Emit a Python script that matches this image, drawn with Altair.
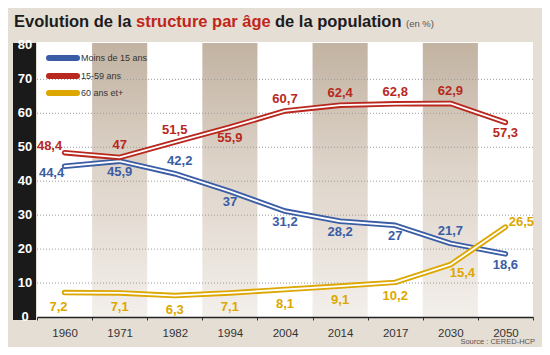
import altair as alt
import pandas as pd

# ---------------- data ----------------
years = ["1960", "1971", "1982", "1994", "2004", "2014", "2017", "2030", "2050"]
series_names = ["Moins de 15 ans", "15-59 ans", "60 ans et+"]
moins15 = [44.4, 45.9, 42.2, 37, 31.2, 28.2, 27, 21.7, 18.6]
age15_59 = [48.4, 47, 51.5, 55.9, 60.7, 62.4, 62.8, 62.9, 57.3]
age60 = [7.2, 7.1, 6.3, 7.1, 8.1, 9.1, 10.2, 15.4, 26.5]
shaded_years = ["1971", "1994", "2014", "2030"]
y_ticks = [0, 10, 20, 30, 40, 50, 60, 70, 80]
grid_values = [10, 20, 30, 40, 50, 60, 70]

# label placement codes (style)
pos_moins15 = ["bl", "b", "ar", "b", "b", "b", "b", "a", "b"]
pos_15_59 = ["al", "a", "a", "b", "a", "a", "a", "a", "b"]
pos_60 = ["gbl", "gb", "gb", "gb", "gb", "gb", "gb", "br", "r"]
OFFSETS = {
    "a": (0, -12), "b": (0, 11), "al": (-15, -7), "bl": (-13, 7),
    "ar": (5, -13), "gb": (0, 14), "gbl": (-6, 14), "br": (12, 8), "r": (16, -5),
}

colors = ["#3a5da5", "#b8281e", "#dca700"]
FONT = "Liberation Sans, Arial, sans-serif"

W, H = 496, 275


def fmt(v):
    return f"{v:g}".replace(".", ",")


rows = []
for name, vals, pos in zip(series_names, [moins15, age15_59, age60], [pos_moins15, pos_15_59, pos_60]):
    for y, v, p in zip(years, vals, pos):
        rows.append({"year": y, "series": name, "value": v, "label": fmt(v), "pos": p})
df = pd.DataFrame(rows)

X = alt.X("year:N", sort=years,
          scale=alt.Scale(type="band", domain=years, paddingInner=0, paddingOuter=0),
          axis=alt.Axis(title=None, labelFont=FONT, labelFontSize=11.5, labelColor="#333",
                        labelAngle=0, labelPadding=7, tickSize=3, tickColor="#333",
                        tickBand="extent", domainColor="#222", domainWidth=1.5,
                        zindex=1, grid=False))
YSCALE = alt.Scale(domain=[0, 81], nice=False)
COLOR = alt.Color("series:N", scale=alt.Scale(domain=series_names, range=colors), legend=None)

dummy = pd.DataFrame({"d": [0]})

# shaded columns with vertical gradient
shade = alt.Chart(pd.DataFrame({"year": shaded_years})).mark_rect(
    fill=alt.Gradient(gradient="linear",
                      stops=[alt.GradientStop(color="#c2b3a2", offset=0),
                             alt.GradientStop(color="#ddd3c8", offset=0.45),
                             alt.GradientStop(color="#f3efeb", offset=1)],
                      x1=0, y1=0, x2=0, y2=1)
).encode(x=X, y=alt.value(1), y2=alt.value(H))

# dotted gridlines
grid = alt.Chart(pd.DataFrame({"g": grid_values})).mark_rule(
    color="#9a9a9a", strokeDash=[1, 2], strokeWidth=1
).encode(y=alt.Y("g:Q", scale=YSCALE, axis=None), x=alt.value(0), x2=alt.value(W))

# black band for y axis
band = alt.Chart(dummy).mark_rect(color="#1b1a1a").encode(
    x=alt.value(-24), x2=alt.value(-1), y=alt.value(1), y2=alt.value(H + 3))

# y axis labels (white, in the black band)
ylabels = alt.Chart(pd.DataFrame({"t": y_ticks})).mark_text(
    font=FONT, fontSize=13, fontWeight="bold", color="white", align="center", baseline="middle"
).encode(y=alt.Y("t:Q", scale=YSCALE, axis=None), x=alt.value(-12), text="t:Q")

# lines (outline + white core), per series
line_layers = []
for name in ["Moins de 15 ans", "15-59 ans", "60 ans et+"]:
    sub = alt.Chart(df).transform_filter(alt.datum.series == name)
    base_enc = dict(x=X, y=alt.Y("value:Q", scale=YSCALE, axis=None))
    line_layers.append(sub.mark_line(strokeWidth=5.5, strokeJoin="round", strokeCap="round").encode(
        color=COLOR, **base_enc))
    line_layers.append(sub.mark_line(strokeWidth=1.8, color="white", strokeJoin="round",
                                     strokeCap="round").encode(**base_enc))

# value labels
label_layers = []
for code, (dx, dy) in OFFSETS.items():
    label_layers.append(
        alt.Chart(df).transform_filter(alt.datum.pos == code).mark_text(
            dx=dx, dy=dy, font=FONT, fontSize=13, fontWeight="bold", baseline="middle", align="center"
        ).encode(x=X, y=alt.Y("value:Q", scale=YSCALE, axis=None), text="label:N", color=COLOR))

# legend
leg_df = pd.DataFrame({"series": series_names, "ypix": [16, 34, 51]})
leg_sw = alt.Chart(leg_df).mark_rule(strokeWidth=6, strokeCap="round").encode(
    x=alt.value(12), x2=alt.value(40), y=alt.Y("ypix:Q", scale=None), color=COLOR)
leg_tx = alt.Chart(leg_df).mark_text(align="left", baseline="middle", font=FONT, fontSize=9,
                                     color="#333").encode(
    x=alt.value(44), y=alt.Y("ypix:Q", scale=None), text="series:N")

# title pieces
TS = 16.5
t1 = alt.Chart(dummy).mark_text(text="Evolution de la", align="left", baseline="alphabetic",
                                font=FONT, fontSize=TS, fontWeight="bold", color="#1c1c1c").encode(
    x=alt.value(-23), y=alt.value(-15))
t2 = alt.Chart(dummy).mark_text(text="structure par âge", align="left", baseline="alphabetic",
                                font=FONT, fontSize=TS, fontWeight="bold", color="#c0261a").encode(
    x=alt.value(99), y=alt.value(-15))
t3 = alt.Chart(dummy).mark_text(text="de la population", align="left", baseline="alphabetic",
                                font=FONT, fontSize=TS, fontWeight="bold", color="#1c1c1c").encode(
    x=alt.value(238), y=alt.value(-15))
t4 = alt.Chart(dummy).mark_text(text="(en %)", align="left", baseline="alphabetic",
                                font=FONT, fontSize=9.5, color="#555").encode(
    x=alt.value(369), y=alt.value(-15))

source = alt.Chart(dummy).mark_text(text="Source : CERED-HCP", align="right", baseline="middle",
                                    font=FONT, fontSize=7.5, color="#555").encode(
    x=alt.value(498), y=alt.value(300))

bottom_bar = alt.Chart(dummy).mark_rect(color="#3a62aa").encode(
    x=alt.value(-40), x2=alt.value(520), y=alt.value(307), y2=alt.value(315))
bottom_light = alt.Chart(dummy).mark_rect(color="#9fb2d8").encode(
    x=alt.value(-40), x2=alt.value(520), y=alt.value(306), y2=alt.value(307.5))
right_edge = alt.Chart(dummy).mark_rect(color="#c9c6cc").encode(
    x=alt.value(508), x2=alt.value(510), y=alt.value(-45), y2=alt.value(306))

chart = alt.layer(
    shade, grid, band, ylabels, *line_layers, *label_layers, leg_sw, leg_tx,
    t1, t2, t3, t4, source, bottom_light, bottom_bar, right_edge
).properties(
    width=W, height=H,
    padding={"left": 29, "top": 34, "right": 9, "bottom": 30},
    autosize=alt.AutoSizeParams(type="none"),
).configure(background="#e5ded4").configure_view(stroke=None, fill="white")

chart.save("out.html", embed_options={"renderer": "svg", "actions": False})
